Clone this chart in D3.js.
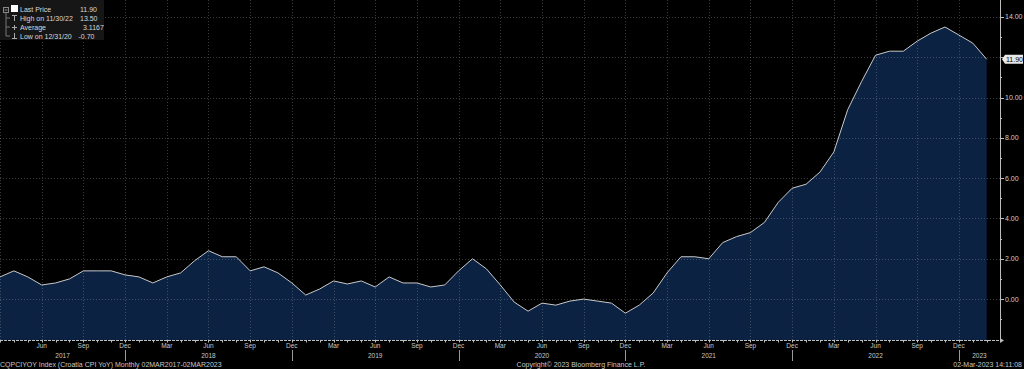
<!DOCTYPE html>
<html><head><meta charset="utf-8">
<script src="https://cdn.jsdelivr.net/npm/d3@7"></script>
<style>html,body{margin:0;padding:0;background:#000;overflow:hidden}svg{display:block}</style>
</head><body><svg id="c" width="1024" height="369"></svg>
<script>
// ---- data ----
const months = [
 "2017-03","2017-04","2017-05","2017-06","2017-07","2017-08","2017-09","2017-10","2017-11","2017-12",
 "2018-01","2018-02","2018-03","2018-04","2018-05","2018-06","2018-07","2018-08","2018-09","2018-10","2018-11","2018-12",
 "2019-01","2019-02","2019-03","2019-04","2019-05","2019-06","2019-07","2019-08","2019-09","2019-10","2019-11","2019-12",
 "2020-01","2020-02","2020-03","2020-04","2020-05","2020-06","2020-07","2020-08","2020-09","2020-10","2020-11","2020-12",
 "2021-01","2021-02","2021-03","2021-04","2021-05","2021-06","2021-07","2021-08","2021-09","2021-10","2021-11","2021-12",
 "2022-01","2022-02","2022-03","2022-04","2022-05","2022-06","2022-07","2022-08","2022-09","2022-10","2022-11","2022-12",
 "2023-01","2023-02"
];
const cpiYoY = [
 1.1,1.4,1.1,0.7,0.8,1.0,1.4,1.4,1.4,1.2,
 1.1,0.8,1.1,1.3,1.9,2.4,2.1,2.1,1.4,1.6,1.3,0.8,
 0.2,0.5,0.9,0.75,0.9,0.6,1.1,0.8,0.8,0.6,0.7,1.4,
 2.0,1.5,0.7,-0.15,-0.6,-0.2,-0.3,-0.1,0.0,-0.1,-0.2,-0.7,
 -0.3,0.3,1.3,2.1,2.1,2.0,2.8,3.1,3.3,3.8,4.8,5.5,
 5.7,6.3,7.3,9.4,10.8,12.1,12.3,12.3,12.8,13.2,13.5,13.1,
 12.7,11.9
];
const monthTickNames = {"03":"Mar","06":"Jun","09":"Sep","12":"Dec"};
const years = ["2017","2018","2019","2020","2021","2022","2023"];
const yTicks = [0,2,4,6,8,10,12,14];
const yMinorTicks = [-1,1,3,5,7,9,11,13];
const legendRows = [
 {label:"Last Price", value:"11.90"},
 {label:"High on 11/30/22", value:"13.50"},
 {label:"Average", value:"3.1167"},
 {label:"Low on 12/31/20", value:"-0.70"}
];
const lastValueLabel = "11.90";
const footerLeft = "CQPCIYOY Index (Croatia CPI YoY)  Monthly 02MAR2017-02MAR2023";
const footerMid = "Copyright\u00A9 2023 Bloomberg Finance L.P.";
const footerRight = "02-Mar-2023 14:11:08";

// ---- layout ----
const svg = d3.select("#c");
const W = 1024, H = 369;
const plotRight = 1000, plotBottom = 340;
const font = "Liberation Sans, Arial, sans-serif";

const x = d3.scalePoint().domain(months).range([0, 986.7]);
const y = d3.scaleLinear().domain([-2.03, 14.84]).range([plotBottom, 0]);

svg.append("rect").attr("width", W).attr("height", H).attr("fill", "#000");

// area + line
const area = d3.area().x((d,i)=>x(months[i])).y0(plotBottom).y1(d=>y(d));
const line = d3.line().x((d,i)=>x(months[i])).y(d=>y(d));
svg.append("path").datum(cpiYoY).attr("d", area).attr("fill", "#0b2242");

// grid
const gridColor = "rgba(200,200,200,0.28)";
const quarterMonths = months.filter(m => monthTickNames[m.slice(5)]);
svg.append("g").selectAll("line").data(yTicks).join("line")
  .attr("x1", 0).attr("x2", plotRight)
  .attr("y1", d=>Math.round(y(d))+0.5).attr("y2", d=>Math.round(y(d))+0.5)
  .attr("stroke", gridColor).attr("stroke-width", 1).attr("stroke-dasharray", "1,2");
svg.append("g").selectAll("line").data(quarterMonths).join("line")
  .attr("x1", d=>Math.round(x(d))+0.5).attr("x2", d=>Math.round(x(d))+0.5)
  .attr("y1", 0).attr("y2", plotBottom)
  .attr("stroke", gridColor).attr("stroke-width", 1).attr("stroke-dasharray", "1,2");

svg.append("path").datum(cpiYoY).attr("d", line).attr("fill", "none")
  .attr("stroke", "#c9c9c9").attr("stroke-width", 1);

// right axis
const axisColor = "#bdbdbd";
const lastVal = cpiYoY[cpiYoY.length-1];
svg.append("line").attr("x1", plotRight+0.5).attr("x2", plotRight+0.5).attr("y1", 0).attr("y2", plotBottom)
  .attr("stroke", axisColor).attr("stroke-width", 1);
svg.append("g").selectAll("line").data(yTicks).join("line")
  .attr("x1", plotRight).attr("x2", plotRight+4)
  .attr("y1", d=>Math.round(y(d))+0.5).attr("y2", d=>Math.round(y(d))+0.5)
  .attr("stroke", axisColor);
svg.append("g").selectAll("line").data(yMinorTicks).join("line")
  .attr("x1", plotRight).attr("x2", plotRight+2)
  .attr("y1", d=>Math.round(y(d))+0.5).attr("y2", d=>Math.round(y(d))+0.5)
  .attr("stroke", axisColor);
// labels hidden where the last-price tag covers them
svg.append("g").selectAll("text").data(yTicks.filter(t => Math.abs(y(t)-y(lastVal)) > 9)).join("text")
  .attr("x", plotRight+5).attr("y", d=>y(d)+2.5)
  .attr("font-family", font).attr("font-size", 7).attr("fill", "#cfcfcf")
  .text(d=>d3.format(".2f")(d));

// last price tag
const ly = y(lastVal);
svg.append("path")
  .attr("d", `M${plotRight+2},${ly} L${plotRight+5},${ly-4.5} L${1023},${ly-4.5} L${1023},${ly+4.5} L${plotRight+5},${ly+4.5} Z`)
  .attr("fill", "#e8e8e8");
svg.append("text").attr("x", plotRight+6).attr("y", ly+2.5)
  .attr("font-family", font).attr("font-size", 7).attr("fill", "#000")
  .text(lastValueLabel);

// bottom axis
svg.append("line").attr("x1", 0).attr("x2", plotRight+2).attr("y1", plotBottom+0.5).attr("y2", plotBottom+0.5)
  .attr("stroke", axisColor).attr("stroke-dasharray", "3,1");
svg.append("path").attr("d", `M${plotRight},${plotBottom-2} L${plotRight+4},${plotBottom+0.5} L${plotRight},${plotBottom+3} Z`).attr("fill", axisColor);
svg.append("g").selectAll("line").data(months).join("line")
  .attr("x1", d=>Math.round(x(d))+0.5).attr("x2", d=>Math.round(x(d))+0.5)
  .attr("y1", plotBottom).attr("y2", plotBottom+2.5)
  .attr("stroke", axisColor);
svg.append("g").selectAll("text").data(quarterMonths.filter(m => x(m) > 10)).join("text")
  .attr("x", d=>x(d)).attr("y", 347.5).attr("text-anchor", "middle")
  .attr("font-family", font).attr("font-size", 6.5).attr("fill", "#c8c8c8")
  .text(d=>monthTickNames[d.slice(5)]);

// year separators & labels
const decs = months.filter(m => m.slice(5) === "12");
svg.append("g").selectAll("line").data(decs).join("line")
  .attr("x1", d=>Math.round(x(d))+0.5).attr("x2", d=>Math.round(x(d))+0.5)
  .attr("y1", 350).attr("y2", 361).attr("stroke", "#9a9a9a");
svg.append("g").selectAll("text").data(years).join("text")
  .attr("x", yr => {
    const start = yr === years[0] ? x(months[0]) : x((+yr-1)+"-12");
    const end = months.includes(yr+"-12") ? x(yr+"-12") : plotRight;
    return (start+end)/2;
  })
  .attr("y", 357.5).attr("text-anchor", "middle")
  .attr("font-family", font).attr("font-size", 6.5).attr("fill", "#c8c8c8")
  .text(d=>d);

// footer
svg.append("text").attr("x", 0).attr("y", 366.5).attr("font-family", font).attr("font-size", 7).attr("fill", "#c8c8c8").text(footerLeft);
svg.append("text").attr("x", 581).attr("y", 366.5).attr("text-anchor", "middle").attr("font-family", font).attr("font-size", 7).attr("fill", "#c8c8c8").text(footerMid);
svg.append("text").attr("x", 1022).attr("y", 366.5).attr("text-anchor", "end").attr("font-family", font).attr("font-size", 7).attr("fill", "#c8c8c8").text(footerRight);

// legend
const lg = svg.append("g");
lg.append("rect").attr("x", 0).attr("y", 0).attr("width", 104).attr("height", 40).attr("fill", "#161616");
const rowY = [9, 18, 27, 36];
lg.append("rect").attr("x", 3.5).attr("y", 7.5).attr("width", 5).attr("height", 5).attr("fill", "none").attr("stroke", "#888");
lg.append("line").attr("x1", 4.5).attr("x2", 7.5).attr("y1", 10).attr("y2", 10).attr("stroke", "#888");
lg.append("line").attr("x1", 6).attr("x2", 6).attr("y1", 13).attr("y2", 36).attr("stroke", "#777");
[18, 27, 36].forEach(yy => lg.append("line").attr("x1", 6).attr("x2", 10).attr("y1", yy).attr("y2", yy).attr("stroke", "#777"));
lg.append("rect").attr("x", 11).attr("y", 5).attr("width", 7).attr("height", 7).attr("fill", "#fff");
// symbols
lg.append("path").attr("d", "M12,15.5 L17,15.5 M14.5,15.5 L14.5,21").attr("stroke", "#aaa").attr("fill", "none");
lg.append("path").attr("d", "M12,27.5 L17,27.5 M14.5,25 L14.5,30").attr("stroke", "#aaa").attr("fill", "none");
lg.append("path").attr("d", "M14.5,33 L14.5,38.5 M12,38.5 L17,38.5").attr("stroke", "#aaa").attr("fill", "none");
lg.selectAll("text.l").data(legendRows).join("text").attr("class", "l")
  .attr("x", 20).attr("y", (d,i)=>rowY[i]+2.5)
  .attr("font-family", font).attr("font-size", 7).attr("fill", "#d8d8d8").text(d=>d.label);
const valX = [80, 80, 83, 78.5];
lg.selectAll("text.v").data(legendRows).join("text").attr("class", "v")
  .attr("x", (d,i)=>valX[i]).attr("y", (d,i)=>rowY[i]+2.5)
  .attr("font-family", font).attr("font-size", 7).attr("fill", "#d8d8d8").text(d=>d.value);
</script>
</body></html>
